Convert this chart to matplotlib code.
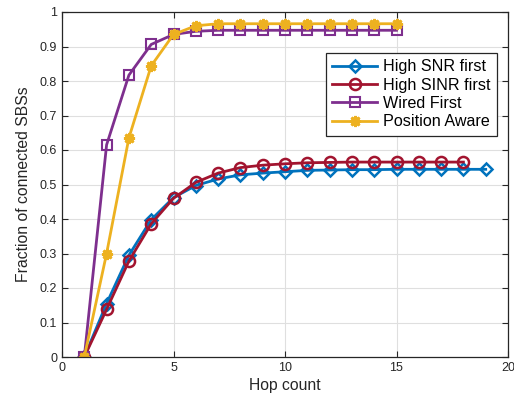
import matplotlib

import matplotlib.pyplot as plt

matplotlib.use('Agg')

plt.rcParams['font.family'] = ['Liberation Sans', 'DejaVu Sans']

# Values
hops_snr = list(range(1, 20))
snr_first = [0.0, 0.155, 0.295, 0.398, 0.462, 0.497, 0.516, 0.528, 0.533, 0.537,
             0.541, 0.542, 0.543, 0.543, 0.544, 0.544, 0.544, 0.544, 0.544]

hops_sinr = list(range(1, 19))
sinr_first = [0.0, 0.138, 0.278, 0.386, 0.46, 0.506, 0.533, 0.549, 0.556, 0.560,
              0.563, 0.564, 0.565, 0.565, 0.565, 0.565, 0.565, 0.565]

hops_wired = list(range(1, 16))
wired_first = [0.0, 0.615, 0.817, 0.906, 0.935, 0.944, 0.947, 0.947, 0.947, 0.947,
               0.947, 0.947, 0.947, 0.947, 0.947]

hops_pos = list(range(1, 16))
position_aware = [0.0, 0.30, 0.635, 0.844, 0.935, 0.960, 0.966, 0.966, 0.966, 0.966,
                  0.966, 0.966, 0.966, 0.966, 0.966]

x_ticks = [0, 5, 10, 15, 20]
y_ticks = [0, 0.1, 0.2, 0.3, 0.4, 0.5, 0.6, 0.7, 0.8, 0.9, 1]

fig = plt.figure(figsize=(5.14, 4.04), dpi=100)
ax = fig.add_axes([62 / 514, 1 - 357 / 404, 446 / 514, 345 / 404])

ax.plot(hops_snr, snr_first, color='#0072BD', lw=2, marker='D', ms=6.5,
        mfc='none', mew=1.8, label='High SNR first')
ax.plot(hops_sinr, sinr_first, color='#A2142F', lw=2, marker='o', ms=8,
        mfc='none', mew=1.8, label='High SINR first')
ax.plot(hops_wired, wired_first, color='#7E2F8E', lw=2, marker='s', ms=6.5,
        mfc='none', mew=1.5, label='Wired First')
ax.plot(hops_pos, position_aware, color='#EDB120', lw=2, marker=(8, 2, 0), ms=8,
        mew=2, label='Position Aware')

ax.set_xlim(0, 20)
ax.set_ylim(0, 1)
ax.set_xticks(x_ticks)
ax.set_yticks(y_ticks)
ax.set_yticklabels(['0', '0.1', '0.2', '0.3', '0.4', '0.5', '0.6', '0.7', '0.8', '0.9', '1'])
ax.tick_params(direction='in', top=True, right=True, labelsize=9, length=4,
               color='#262626', labelcolor='#262626')
for spine in ax.spines.values():
    spine.set_color('#262626')
    spine.set_linewidth(0.9)
ax.grid(True, color='#dfdfdf', lw=0.8)
ax.set_axisbelow(True)

ax.set_xlabel('Hop count', fontsize=11.3, color='#262626', labelpad=3)
ax.set_ylabel('Fraction of connected SBSs', fontsize=11.3, color='#262626', labelpad=6)

leg = ax.legend(loc='upper right', bbox_to_anchor=(0.975, 0.881), fontsize=11.6,
                fancybox=False, framealpha=1, edgecolor='#262626',
                handlelength=2.8, borderpad=0.4, labelspacing=0.2,
                handletextpad=0.35, borderaxespad=0)
leg.get_frame().set_linewidth(0.9)

fig.savefig('out.png', dpi=100)
